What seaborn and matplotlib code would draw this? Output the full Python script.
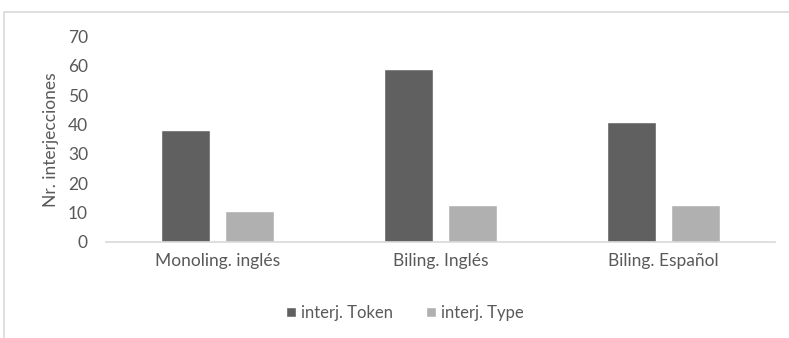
import matplotlib
matplotlib.use("Agg")
import matplotlib.pyplot as plt
import seaborn as sns
import pandas as pd
from matplotlib.patches import Rectangle

categories = ["Monoling. inglés", "Biling. Inglés", "Biling. Español"]
token_values = [38.2, 59.0, 40.8]
type_values = [10.5, 12.7, 12.5]
series_names = ["interj. Token", "interj. Type"]
y_ticks = [0, 10, 20, 30, 40, 50, 60, 70]

df = pd.DataFrame({
    "cat": categories * 2,
    "serie": [series_names[0]] * 3 + [series_names[1]] * 3,
    "val": token_values + type_values,
})

sns.set_theme(style="white")
plt.rcParams["font.family"] = ["Lato", "DejaVu Sans"]

fig = plt.figure(figsize=(7.89, 3.38), dpi=100)
ax = fig.add_axes([106 / 789, 96.3 / 338, 669 / 789, 205 / 338])

palette = {series_names[0]: "#606060", series_names[1]: "#b0b0b0"}
sns.barplot(data=df, x="cat", y="val", hue="serie", order=categories,
            hue_order=series_names, palette=palette, width=0.574, gap=0.22,
            saturation=1, ax=ax, legend=True)

ax.set_ylim(0, 70)
ax.set_yticks(y_ticks)
ax.set_xlim(-0.5, 2.5)
text_color = "#595959"
ax.tick_params(axis="y", length=0, pad=13, labelsize=12.5, labelcolor=text_color)
ax.tick_params(axis="x", length=0, pad=8, labelsize=12.5, labelcolor=text_color)
ax.set_xlabel("")
ax.set_ylabel("Nr. interjecciones", fontsize=12.5, color=text_color, labelpad=6)
for s in ["top", "right", "left"]:
    ax.spines[s].set_visible(False)
ax.spines["bottom"].set_color("#d9d9d9")
ax.spines["bottom"].set_linewidth(1.2)
ax.grid(False)

handles, labels = ax.get_legend_handles_labels()
ax.legend_.remove()
leg = fig.legend(handles, labels, loc="center", bbox_to_anchor=(405 / 789, 1 - 313 / 338),
                 ncol=2, frameon=False, fontsize=12, handlelength=0.6, handleheight=0.6,
                 handletextpad=0.3, columnspacing=2.0)
for t in leg.get_texts():
    t.set_color(text_color)

# outer chart frame (partially visible)
fig.patches.append(Rectangle((4 / 789, -0.1), 1.2, 1 - 12 / 338 + 0.1, transform=fig.transFigure,
                             fill=False, edgecolor="#d9d9d9", linewidth=1.2))

fig.savefig("out.png", dpi=100)
